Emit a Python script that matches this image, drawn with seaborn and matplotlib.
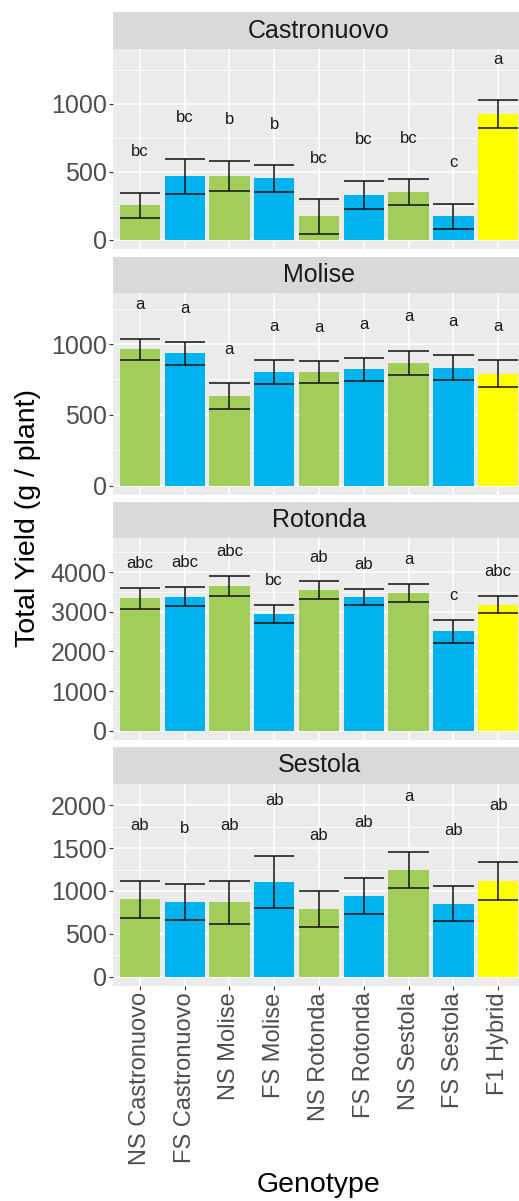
import numpy as np
import pandas as pd
import seaborn as sns
import matplotlib.pyplot as plt
from matplotlib.ticker import MultipleLocator, AutoMinorLocator

# ---- data -------------------------------------------------------------
genotypes = ["NS Castronuovo", "FS Castronuovo", "NS Molise", "FS Molise",
             "NS Rotonda", "FS Rotonda", "NS Sestola", "FS Sestola", "F1 Hybrid"]
locations = ["Castronuovo", "Molise", "Rotonda", "Sestola"]

castronuovo_mean = [253, 469, 469, 452, 174, 332, 351, 174, 924]
castronuovo_se = [94, 129, 113, 100, 128, 103, 98, 93, 104]
castronuovo_letters = ["bc", "bc", "b", "b", "bc", "bc", "bc", "c", "a"]

molise_mean = [962, 934, 632, 802, 802, 821, 868, 833, 792]
molise_se = [77, 80, 91, 85, 80, 82, 86, 90, 94]
molise_letters = ["a", "a", "a", "a", "a", "a", "a", "a", "a"]

rotonda_mean = [3336, 3378, 3647, 2941, 3546, 3378, 3471, 2504, 3176]
rotonda_se = [273, 240, 252, 222, 219, 206, 231, 286, 218]
rotonda_letters = ["abc", "abc", "abc", "bc", "ab", "ab", "a", "c", "abc"]

sestola_mean = [901, 870, 870, 1103, 792, 936, 1243, 854, 1118]
sestola_se = [217, 208, 249, 305, 210, 210, 210, 202, 225]
sestola_letters = ["ab", "b", "ab", "ab", "ab", "ab", "a", "ab", "ab"]

means = [castronuovo_mean, molise_mean, rotonda_mean, sestola_mean]
ses = [castronuovo_se, molise_se, rotonda_se, sestola_se]
letters = [castronuovo_letters, molise_letters, rotonda_letters, sestola_letters]

# ---- styling / layout --------------------------------------------------
GREEN, BLUE, YELLOW = "#A2CD5A", "#00B2EE", "#FFFF00"
palette = {g: (YELLOW if g.startswith("F1") else GREEN if g.startswith("NS") else BLUE)
           for g in genotypes}

y_limits = [(-67, 1404), (-65, 1360), (-231, 4860), (-107, 2246)]
y_steps = [500, 500, 1000, 500]
letter_offsets = [300, 237, 615, 648]

# strip top, panel top, panel bottom (pixels from top)
rows = [(12, 49, 249), (257, 293, 495), (502, 538, 740), (747, 784, 986)]
W, H = 519, 1201
X0, X1 = 113, 525

sns.set_theme(style="darkgrid", rc={
    "axes.facecolor": "#EBEBEB",
    "grid.color": "white",
})
plt.rcParams["font.family"] = ["Liberation Sans", "DejaVu Sans"]

fig = plt.figure(figsize=(W / 100, H / 100), dpi=100)
fig.patch.set_facecolor("white")

for k, loc in enumerate(locations):
    st, pt, pb = rows[k]
    ax = fig.add_axes([X0 / W, 1 - pb / H, (X1 - X0) / W, (pb - pt) / H])
    strip = fig.add_axes([X0 / W, 1 - pt / H, (X1 - X0) / W, (pt - st) / H])

    df = pd.DataFrame({"Genotype": genotypes, "Yield": means[k]})
    sns.barplot(data=df, x="Genotype", y="Yield", hue="Genotype", order=genotypes,
                hue_order=genotypes, palette=palette, width=0.9, saturation=1,
                errorbar=None, legend=False, ax=ax, zorder=2, linewidth=0)

    m = np.array(means[k], dtype=float)
    s = np.array(ses[k], dtype=float)
    xs = np.arange(len(genotypes))
    ax.vlines(xs, m - s, m + s, color="#111111", lw=1.1, zorder=3)
    ax.hlines(m + s, xs - 0.45, xs + 0.45, color="#111111", lw=1.1, zorder=3)
    ax.hlines(m - s, xs - 0.45, xs + 0.45, color="#111111", lw=1.1, zorder=3)

    for i, lab in enumerate(letters[k]):
        ax.text(i, m[i] + s[i] + letter_offsets[k], lab, ha="center", va="center",
                fontsize=12, color="#1A1A1A", zorder=4)

    ax.set_xlim(-0.6, 8.6)
    ax.set_ylim(*y_limits[k])
    ax.yaxis.set_major_locator(MultipleLocator(y_steps[k]))
    ax.yaxis.set_minor_locator(AutoMinorLocator(2))
    ax.set_axisbelow(True)
    ax.grid(which="major", color="white", lw=1.1)
    ax.grid(which="minor", axis="y", color="white", lw=0.55)
    ax.grid(which="minor", axis="x", visible=False)
    for sp in ax.spines.values():
        sp.set_visible(False)
    ax.set_xlabel("")
    ax.set_ylabel("")
    ax.tick_params(axis="y", which="major", labelsize=18, labelcolor="#4D4D4D",
                   color="#333333", length=3, width=0.8, pad=1.5, left=True)
    ax.tick_params(axis="y", which="minor", length=0)
    if k == len(locations) - 1:
        ax.tick_params(axis="x", labelsize=17, labelcolor="#4D4D4D", color="#333333",
                       length=3, width=0.8, pad=1.5, bottom=True, labelrotation=90)
    else:
        ax.tick_params(axis="x", length=0, labelbottom=False)

    strip.set_facecolor("#D9D9D9")
    strip.set_xticks([])
    strip.set_yticks([])
    strip.grid(False)
    for sp in strip.spines.values():
        sp.set_visible(False)
    strip.text(0.5, 0.5, loc, ha="center", va="center", fontsize=18,
               color="#1A1A1A", transform=strip.transAxes)

fig.text(319 / W, 1 - 1185 / H, "Genotype", ha="center", va="center",
         fontsize=20.5, color="black")
fig.text(28 / W, 1 - 518 / H, "Total Yield (g / plant)", ha="center", va="center",
         rotation=90, fontsize=20.5, color="black")

fig.savefig("out.png", dpi=100, facecolor="white")
